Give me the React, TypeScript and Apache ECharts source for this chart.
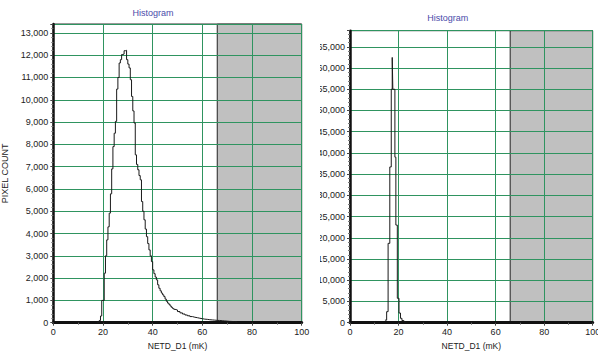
import React, { useEffect, useRef } from "react";
import * as echarts from "echarts";

// ---- data ----
const chartTitle = "Histogram";
const xAxisName = "NETD_D1 (mK)";
const yAxisName = "PIXEL COUNT";

// left histogram: bin start (mK) and pixel count
const leftBinStarts = [
  17.5, 18, 18.5, 19, 19.5, 20, 20.5, 21, 21.5, 22, 22.5, 23, 23.5, 24, 24.5, 25,
  25.5, 26, 26.5, 27, 27.5, 28, 28.5, 29, 29.5, 30, 30.5, 31, 31.5, 32, 32.5, 33,
  33.5, 34, 34.5, 35, 35.5, 36, 36.5, 37, 37.5, 38, 38.5, 39, 39.5, 40, 40.5, 41,
  41.5, 42, 42.5, 43, 43.5, 44, 44.5, 45, 45.5, 46, 46.5, 47, 47.5, 48, 48.5, 49,
  50, 51, 52, 53, 54, 55, 56, 57, 58, 59, 60, 61, 62, 63, 64, 65, 66, 67, 68, 69,
  70, 71, 72, 73,
];
const leftCounts = [
  0, 0, 100, 300, 1000, 1000, 2220, 3000, 3715, 4300, 4915, 5780, 6900, 7900, 8500, 9030,
  10480, 11000, 11650, 11800, 12030, 12050, 12200, 12220, 11800, 11600, 11430, 10900, 10150, 9500, 8960, 7530,
  7100, 6860, 6600, 6410, 5435, 5000, 4615, 4200, 3860, 3550, 3265, 3000, 2740, 2370, 2200, 2050,
  1920, 1700, 1545, 1430, 1330, 1250, 1170, 1060, 960, 880, 825, 750, 690, 640, 600, 570,
  500, 440, 390, 345, 310, 275, 245, 225, 200, 180, 160, 150, 135, 125, 115, 105, 100, 90, 80, 70,
  60, 55, 50, 40,
];
const leftEndEdge = 74;

// right histogram
const rightBinStarts = [14.4, 15.1, 15.7, 16.4, 17.0, 17.4, 17.65, 18.5, 18.9, 19.5, 20.2, 20.8, 21.4, 22.2];
const rightCounts = [600, 2600, 18700, 36700, 55000, 62500, 55000, 39000, 23000, 5750, 2280, 1030, 500, 150];
const rightEndEdge = 23;

const shadedRange = [66, 100];
const leftYMax = 13400;
const rightYMax = 68800;

const FONT = "'Liberation Sans', Arial, Helvetica, sans-serif";
const GREEN = "#2f9460";

type Cfg = {
  starts: number[];
  counts: number[];
  end: number;
  yMax: number;
  yInterval: number;
  grid: { left: number; right: number; top: number; bottom: number };
  titleX: number;
  titleY: number;
  showYName: boolean;
};

function buildOption(cfg: Cfg) {
  const hist: number[][] = cfg.starts.map((x, i) => [x, cfg.counts[i]]);
  hist.push([cfg.end, 0]);
  const shade = [
    [shadedRange[0], 0],
    [shadedRange[0], cfg.yMax],
    [shadedRange[1], cfg.yMax],
  ];
  return {
    animation: false,
    title: {
      text: chartTitle,
      left: cfg.titleX,
      top: cfg.titleY,
      textAlign: "center",
      padding: 0,
      textStyle: { fontSize: 9, fontWeight: "normal", color: "#4b4baa", fontFamily: FONT },
    },
    grid: {
      ...cfg.grid,
      show: true,
      borderColor: "#333",
      borderWidth: 1,
      containLabel: false,
      outerBoundsMode: "none",
    },
    xAxis: {
      type: "value",
      min: 0,
      max: 100,
      interval: 20,
      z: 2,
      name: xAxisName,
      nameLocation: "middle",
      nameGap: 18,
      nameTextStyle: { fontSize: 8.5, color: "#222", fontFamily: FONT },
      axisLine: { show: true, onZero: false, lineStyle: { color: "#111", width: 3 } },
      axisTick: { show: true, length: 3, lineStyle: { color: "#444" } },
      minorTick: { show: true, splitNumber: 2, length: 2, lineStyle: { color: "#666" } },
      axisLabel: { margin: 5, fontSize: 9, color: "#222", fontFamily: FONT },
      splitLine: { show: true, lineStyle: { color: GREEN, width: 1 } },
    },
    yAxis: {
      type: "value",
      min: 0,
      max: cfg.yMax,
      interval: cfg.yInterval,
      z: 2,
      name: cfg.showYName ? yAxisName : "",
      nameLocation: "middle",
      nameGap: 40,
      nameTextStyle: { fontSize: 9, color: "#222", fontFamily: FONT },
      axisLine: { show: true, onZero: false, lineStyle: { color: "#111", width: 2.5 } },
      axisTick: { show: true, length: 3, lineStyle: { color: "#444" } },
      minorTick: { show: true, splitNumber: 5, length: 2, lineStyle: { color: "#777" } },
      axisLabel: {
        margin: 5,
        fontSize: 9,
        color: "#222",
        fontFamily: FONT,
        showMaxLabel: false,
        formatter: (v: number) => (v % cfg.yInterval === 0 ? v.toLocaleString("en-US") : ""),
      },
      splitLine: { show: true, lineStyle: { color: GREEN, width: 1 } },
    },
    series: [
      {
        type: "line",
        data: shade,
        z: 1,
        symbol: "none",
        silent: true,
        lineStyle: { color: "#222", width: 1 },
        areaStyle: { color: "#c0c0c0", opacity: 1, origin: "start" },
      },
      {
        type: "line",
        data: hist,
        z: 3,
        step: "end",
        symbol: "none",
        lineStyle: { color: "#1a1a1a", width: 1 },
      },
    ],
  };
}

function Chart({ cfg, style }: { cfg: Cfg; style: React.CSSProperties }) {
  const ref = useRef<HTMLDivElement>(null);
  useEffect(() => {
    if (!ref.current) return;
    const chart = echarts.init(ref.current, undefined, { renderer: "svg" });
    chart.setOption(buildOption(cfg) as any);
    return () => chart.dispose();
  }, [cfg]);
  return <div ref={ref} style={style} />;
}

const leftCfg: Cfg = {
  starts: leftBinStarts,
  counts: leftCounts,
  end: leftEndEdge,
  yMax: leftYMax,
  yInterval: 1000,
  grid: { left: 53.3, right: 16.3, top: 24, bottom: 30.3 },
  titleX: 153,
  titleY: 8.5,
  showYName: true,
};

const rightCfg: Cfg = {
  starts: rightBinStarts,
  counts: rightCounts,
  end: rightEndEdge,
  yMax: rightYMax,
  yInterval: 5000,
  grid: { left: 50, right: 5.3, top: 30.7, bottom: 30.3 },
  titleX: 147.7,
  titleY: 13,
  showYName: false,
};

const CLIP = 320;

export default function App() {
  return (
    <div style={{ position: "absolute", left: 0, top: 0, width: 598, height: 353, background: "#fff", overflow: "hidden" }}>
      <Chart cfg={leftCfg} style={{ position: "absolute", left: 0, top: 0, width: 318, height: 353 }} />
      <div style={{ position: "absolute", left: CLIP, top: 0, width: 598 - CLIP, height: 353, overflow: "hidden" }}>
        <Chart cfg={rightCfg} style={{ position: "absolute", left: 300 - CLIP, top: 0, width: 298, height: 353 }} />
      </div>
    </div>
  );
}
